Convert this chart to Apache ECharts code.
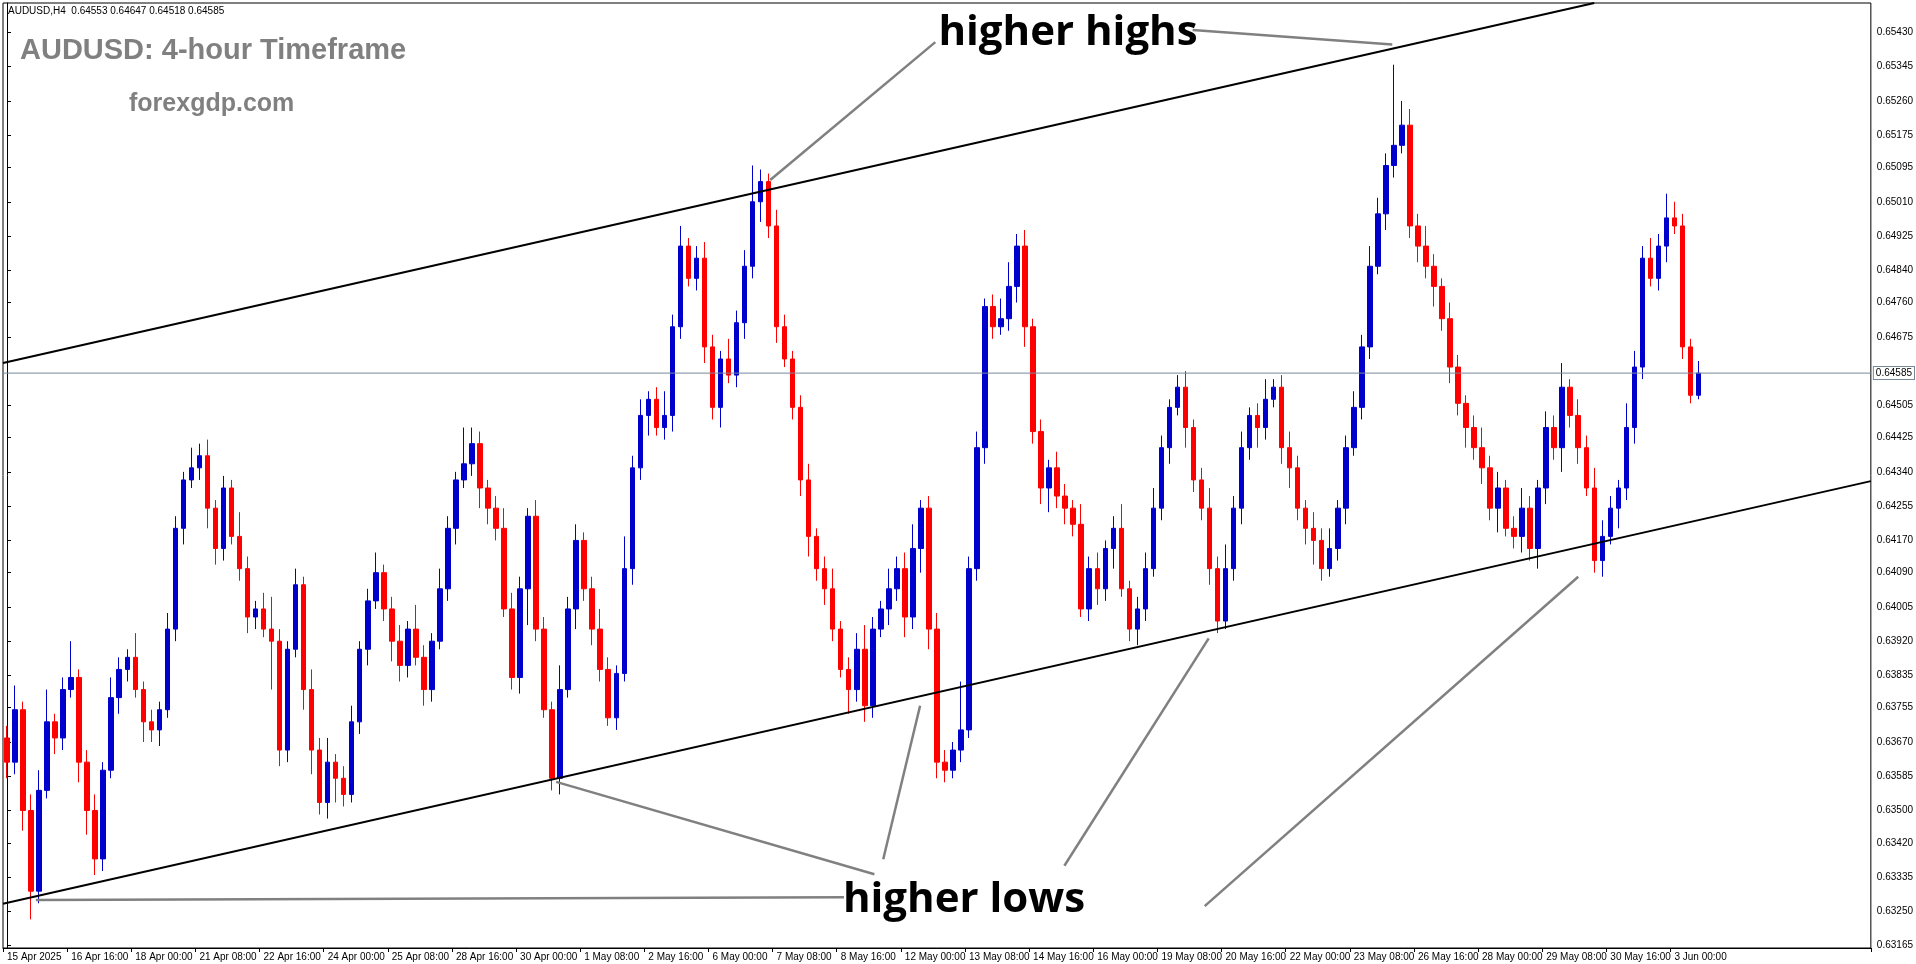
<!DOCTYPE html>
<html><head><meta charset="utf-8">
<script src="https://cdn.jsdelivr.net/npm/echarts@6/dist/echarts.min.js"></script>
<style>html,body{margin:0;padding:0;background:#fff}#c{width:1916px;height:964px}</style>
</head><body><div id="c"></div>
<script>
// ---- data ----
const firstOpen = 0.6368;
const closes = [
0.6362,0.6375,0.6350,0.6330,0.6355,0.6372,0.6368,0.6380,0.6383,0.6362,0.6350,
0.6338,0.6360,0.6378,0.6385,0.6388,0.6380,0.6372,0.6370,0.6375,0.6395,0.6420,0.6432,
0.6435,0.6438,0.6425,0.6415,0.6430,0.6418,0.6410,0.6398,0.6400,0.6395,0.6392,
0.6365,0.6390,0.6406,0.6380,0.6365,0.6352,0.6362,0.6358,0.6354,0.6372,0.6390,
0.6402,0.6409,0.6400,0.6392,0.6386,0.6395,0.6388,0.6380,0.6392,0.6405,0.6420,
0.6432,0.6436,0.6441,0.6430,0.6425,0.6420,0.6400,0.6383,0.6405,0.6423,0.6395,
0.6375,0.6358,0.6380,0.6400,0.6417,0.6405,0.6395,0.6385,0.6373,0.6384,0.6410,
0.6435,0.6448,0.6452,0.6445,0.6448,0.6470,0.6490,0.6482,0.6487,0.6465,0.6450,
0.6462,0.6458,0.6471,0.6485,0.6501,0.6506,0.6495,0.6470,0.6462,0.6450,0.6432,
0.6418,0.6410,0.6405,0.6395,0.6385,0.6380,0.6390,0.6376,0.6395,0.6400,0.6405,
0.6410,0.6398,0.6415,0.6425,0.6395,0.6362,0.6360,0.6365,0.6370,0.6410,0.6440,
0.6475,0.6470,0.6472,0.6480,0.6490,0.6470,0.6444,0.6430,0.6435,0.6428,0.6425,
0.6421,0.6400,0.6410,0.6405,0.6415,0.6420,0.6405,0.6395,0.6400,0.6410,0.6425,
0.6440,0.6450,0.6455,0.6445,0.6432,0.6425,0.6410,0.6397,0.6410,0.6425,0.6440,
0.6448,0.6445,0.6452,0.6455,0.6440,0.6435,0.6425,0.6420,0.6417,0.6410,0.6415,
0.6425,0.6440,0.6450,0.6465,0.6485,0.6498,0.6510,0.6515,0.6520,0.6495,0.6490,
0.6485,0.6480,0.6472,0.6460,0.6451,0.6445,0.6440,0.6435,0.6425,0.6430,0.6420,
0.6418,0.6425,0.6415,0.6430,0.6445,0.6440,0.6455,0.6448,0.6440,0.6430,0.6412,
0.6418,0.6425,0.6430,0.6445,0.6460,0.6487,0.6482,0.6490,0.6497,0.6495,0.6465,0.6453,0.64585];
// upper / lower wick lengths in pips
const wickUp = [3,6,2,4,5,8,2,3,9,2, 3,4,2,5,3,2,6,2,3,2, 4,3,2,5,3,4,2,3,2,6, 3,2,4,8,3,2,4,2,5,3,
 6,2,3,4,2,3,5,2,3,4, 2,6,3,2,5,3,2,9,4,3, 2,3,5,4,3,2,4,3,2,6, 3,4,2,3,5,3,2,8,3,4,
 2,3,6,3,5,2,3,4,3,2, 5,3,4,9,3,2,4,3,2,3, 4,2,3,5,2,3,4,6,3,2, 5,3,4,6,2,3,4,3,2,12,
 3,4,2,3,5,6,3,4,2,3, 2,4,3,2,5,3,4,2,3,6, 2,3,4,5,3,2,3,4,2,3, 5,3,6,3,4,2,3,5,2,3,
 4,3,2,4,3,5,2,3,4,3, 5,4,3,20,6,4,3,5,3,2, 4,3,2,3,5,3,4,2,3,5, 3,2,4,3,6,2,4,3,5,4,
 3,2,6,4,3,5,3,6,4,3, 2,3];
const wickDn = [4,3,5,7,3,2,4,3,2,5, 6,4,3,2,4,3,2,5,3,4, 2,3,4,2,3,5,4,3,2,3, 4,3,2,12,4,3,2,5,6,3,
 4,6,3,2,3,4,2,3,5,4, 3,2,4,3,2,3,4,2,3,5, 4,3,2,3,4,9,3,2,3,4, 2,5,3,4,3,2,3,2,4,3,
 5,2,3,4,3,2,3,4,3,5, 2,3,4,3,5,3,4,2,3,4, 5,3,4,3,2,6,3,4,3,2, 4,3,5,3,6,5,4,3,2,3,
 2,3,4,3,2,3,4,5,3,4, 6,3,4,3,2,3,4,3,5,2, 3,4,3,2,3,4,2,5,3,3, 4,3,2,3,4,3,5,3,2,4,
 5,3,4,6,3,2,3,4,2,3, 3,2,4,3,2,3,4,3,5,3, 4,3,5,3,4,3,6,2,3,4, 3,5,4,3,6,3,4,2,3,4,
 2,5,3,4,3,2,3,4,2,3, 2,1,3];
const yTickValues = [0.65430,0.65345,0.65260,0.65175,0.65095,0.65010,0.64925,0.64840,0.64760,0.64675,0.64505,0.64425,0.64340,0.64255,0.64170,0.64090,0.64005,0.63920,0.63835,0.63755,0.63670,0.63585,0.63500,0.63420,0.63335,0.63250,0.63165];
const yTickLabels = ["0.65430","0.65345","0.65260","0.65175","0.65095","0.65010","0.64925","0.64840","0.64760","0.64675","0.64505","0.64425","0.64340","0.64255","0.64170","0.64090","0.64005","0.63920","0.63835","0.63755","0.63670","0.63585","0.63500","0.63420","0.63335","0.63250","0.63165"];
const lastPrice = 0.64585;
const lastPriceLabel = "0.64585";
// channel lines [barIndex, price]
const upperLine = [[-0.5,0.64610],[198.0,0.65503]];
const lowerLine = [[-0.5,0.63269],[232.5,0.64317]];
// pointer lines [barIndex, price]
const pointers = [
 [[95.2,0.65064],[115.8,0.65406]],
 [[147.9,0.65436],[172.8,0.65400]],
 [[3.6,0.63278],[104.4,0.63285]],
 [[68.5,0.63571],[108.2,0.63342]],
 [[113.9,0.63760],[109.3,0.63379]],
 [[149.9,0.63927],[131.9,0.63363]],
 [[196.0,0.64080],[149.4,0.63263]]
];
const SLOTS = 233;

// ---- build ----
const months=['Jan','Feb','Mar','Apr','May','Jun','Jul','Aug','Sep','Oct','Nov','Dec'];
const cats=[]; let t=new Date(Date.UTC(2025,3,15,8));
while(cats.length<SLOTS){const d=t.getUTCDay(); if(d!==0&&d!==6){cats.push(t.getUTCDate()+' '+months[t.getUTCMonth()]+' '+String(t.getUTCHours()).padStart(2,'0')+':00');} t=new Date(t.getTime()+4*3600e3);}
cats[0]='15 Apr 2025';
const ohlc=closes.map((c,i)=>{const o=i===0?firstOpen:closes[i-1];const up=(wickUp[i]??2)*0.0001, dn=(wickDn[i]??2)*0.0001;return [o,c,+(Math.min(o,c)-dn).toFixed(5),+(Math.max(o,c)+up).toFixed(5)];});
const nBars=closes.length;

const lineSeries=(data,color,w)=>({type:'line',xAxisIndex:1,yAxisIndex:0,data,symbol:'none',silent:true,lineStyle:{color,width:w},z:5,clip:true});
const series=[{type:'candlestick',data:ohlc,barWidth:5,
 itemStyle:{color:'#0000CD',color0:'#FF0000',borderColor:'#0000CD',borderColor0:'#FF0000',borderWidth:1}},
 {type:'line',xAxisIndex:1,yAxisIndex:0,data:[[-0.5,lastPrice],[SLOTS-0.5,lastPrice]],symbol:'none',silent:true,
  lineStyle:{color:'#778899',width:1},z:3,
  endLabel:{show:true,formatter:lastPriceLabel,color:'#000',backgroundColor:'#fff',borderColor:'#778899',borderWidth:1,padding:[1,2],fontSize:10,fontFamily:'Liberation Sans',distance:3}},
 lineSeries(upperLine,'#000',2), lineSeries(lowerLine,'#000',2)];
pointers.forEach(p=>series.push(lineSeries(p,'#808080',2.5)));

const chart=echarts.init(document.getElementById('c'));
chart.setOption({animation:false,backgroundColor:'#fff',
 grid:{left:3,top:3,right:37,bottom:16,show:true,borderColor:'#000',borderWidth:1},
 xAxis:[{type:'category',data:cats,boundaryGap:true,axisLine:{lineStyle:{color:'#000'}},
   axisTick:{show:true,interval:(i)=>i%8===0&&i<nBars+2,length:4,lineStyle:{color:'#000'}},
   axisLabel:{interval:(i)=>i%8===0&&i<nBars+2,align:'left',fontSize:10,color:'#000',fontFamily:'Liberation Sans',margin:4,hideOverlap:false},splitLine:{show:false}},
  {type:'value',min:-0.5,max:SLOTS-0.5,show:false}],
 yAxis:{type:'value',position:'right',min:0.63159,max:0.65503,
   axisLine:{show:true,lineStyle:{color:'#000'}},splitLine:{show:false},
   axisTick:{show:true,customValues:yTickValues,length:4,lineStyle:{color:'#000'}},
   axisLabel:{customValues:yTickValues,hideOverlap:false,formatter:(v)=>{const k=yTickValues.findIndex(x=>Math.abs(x-v)<1e-7);return k>=0?yTickLabels[k]:'';},fontSize:10,color:'#000',fontFamily:'Liberation Sans',margin:6}},
 series,
 graphic:[
  {type:'text',left:8,top:6,style:{text:'AUDUSD,H4  0.64553 0.64647 0.64518 0.64585',fontSize:10,fill:'#000',fontFamily:'Liberation Sans'}},
  {type:'text',left:20,top:36,style:{text:'AUDUSD: 4-hour Timeframe',fontSize:29,fontWeight:'bold',fill:'#808080',fontFamily:'Liberation Sans'}},
  {type:'text',left:129,top:92,style:{text:'forexgdp.com',fontSize:25,fontWeight:'bold',fill:'#808080',fontFamily:'Liberation Sans'}},
  {type:'text',x:1068,y:33,style:{text:'higher highs',fontSize:42,fontWeight:'bold',fill:'#000',align:'center',verticalAlign:'middle',fontFamily:'Open Sans'}},
  {type:'text',x:964,y:900,style:{text:'higher lows',fontSize:42,fontWeight:'bold',fill:'#000',align:'center',verticalAlign:'middle',fontFamily:'Open Sans'}}
 ]});
</script></body></html>
